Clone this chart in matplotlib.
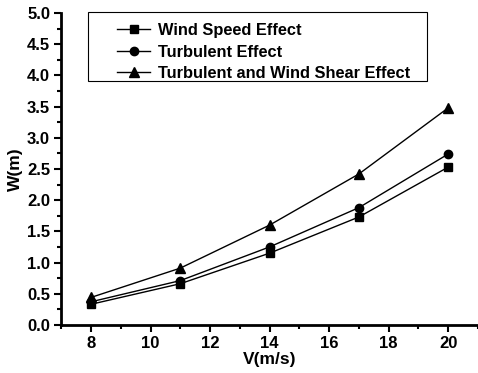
import matplotlib
matplotlib.use("Agg")
import matplotlib.pyplot as plt
from matplotlib.ticker import MultipleLocator, FormatStrFormatter
from matplotlib.patches import Rectangle

plt.rcParams['font.family'] = ['Liberation Sans', 'DejaVu Sans']
plt.rcParams['font.weight'] = 'bold'

speed = [8, 11, 14, 17, 20]
wind_speed_effect = [0.33, 0.66, 1.15, 1.73, 2.53]
turbulent_effect = [0.37, 0.71, 1.25, 1.88, 2.74]
turb_shear_effect = [0.44, 0.91, 1.60, 2.42, 3.48]

fig = plt.figure(figsize=(4.78, 3.73), dpi=100)
ax = fig.add_axes([0.128, 0.129, 0.872, 0.836])

ax.plot(speed, wind_speed_effect, color='k', lw=1, marker='s', ms=5.5, label="Wind Speed Effect")
ax.plot(speed, turbulent_effect, color='k', lw=1, marker='o', ms=6, label="Turbulent Effect")
ax.plot(speed, turb_shear_effect, color='k', lw=1, marker='^', ms=6.5, label="Turbulent and Wind Shear Effect")

ax.set_xlim(7, 21)
ax.set_ylim(0, 5)
ax.xaxis.set_major_locator(MultipleLocator(2))
ax.xaxis.set_minor_locator(MultipleLocator(1))
ax.yaxis.set_major_locator(MultipleLocator(0.5))
ax.yaxis.set_minor_locator(MultipleLocator(0.25))
ax.yaxis.set_major_formatter(FormatStrFormatter('%.1f'))

for s in ['top', 'right']:
    ax.spines[s].set_visible(False)
for s in ['left', 'bottom']:
    ax.spines[s].set_linewidth(2)

ax.tick_params(which='major', direction='out', length=5, width=1.5, labelsize=12, pad=3)
ax.tick_params(which='minor', direction='out', length=3, width=1.5)

ax.set_xlabel("V(m/s)", fontsize=12.5, fontweight='bold', labelpad=1)
ax.set_ylabel("W(m)", fontsize=12.5, fontweight='bold', labelpad=3)

# legend without its own frame, box drawn separately to get the wide left margin
leg = ax.legend(loc='upper left', bbox_to_anchor=(0.135, 0.968), fontsize=11.8,
                frameon=False, handlelength=2.0, borderaxespad=0, borderpad=0,
                labelspacing=0.4, handletextpad=0.45)
# frame in figure pixel coords: x 88..427, y 12..81 (from top)
fig.patches.append(Rectangle((88 / 478, 1 - 81 / 373), (427 - 88) / 478, 69 / 373,
                             transform=fig.transFigure, fill=False,
                             edgecolor='k', lw=0.8))

fig.savefig("out.png", dpi=100)
